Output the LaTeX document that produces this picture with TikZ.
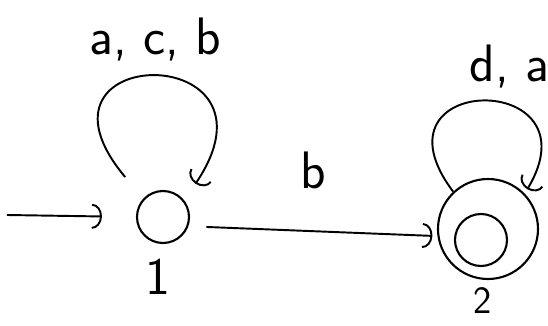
\documentclass[tikz,border=0pt]{standalone}
\usetikzlibrary{arrows.meta}
\tikzset{
  qstate/.style={draw, circle, line width=1.2pt, minimum size=1.04cm, inner sep=0pt},
  qouter/.style={draw, circle, line width=1.2pt, minimum size=2cm, inner sep=0pt},
  trans/.style={line width=1.1pt, -{Arc Barb[length=2mm, width=5mm]}},
  lbl/.style={font=\sffamily\fontsize{30}{36}\selectfont},
}
\begin{document}
\begin{tikzpicture}
\useasboundingbox (0,0) rectangle (10.96,6.52);

% States
\node[qstate] (q1) at (3.26,2.18) {};
\node[qouter] (q2) at (9.76,1.94) {};
\node[qstate] (q2in) at (9.62,1.72) {};

% State names
\node[lbl] (n1) at (3.16,0.98) {1};
\node[lbl, font=\sffamily\fontsize{22}{26}\selectfont] (n2) at (9.66,0.5) {2};

% Start arrow
\coordinate (start) at (0.14,2.22);
\draw[trans, shorten >=0.68cm] (start) -- (q1.west);

% Loops
\draw[trans, shorten <=0.56cm, shorten >=0.4cm] (q1.137) .. controls +(130:4.1) and +(56:3.9) .. (q1.38)
  node[lbl, midway, above=0.25cm] (l1) {a, c, b};
\draw[trans, shorten >=0.1cm] (q2.133) .. controls +(127:3) and +(59:2.9) .. (q2.44)
  node[lbl, pos=0.55, above=0.15cm, xshift=0.3cm] (l2) {d, a};

% Transition
\draw[trans, shorten <=0.36cm, shorten >=0.1cm] (q1.-20) -- (q2.188)
  node[lbl, midway, above=0.7cm] (l3) {b};

\end{tikzpicture}
\end{document}
